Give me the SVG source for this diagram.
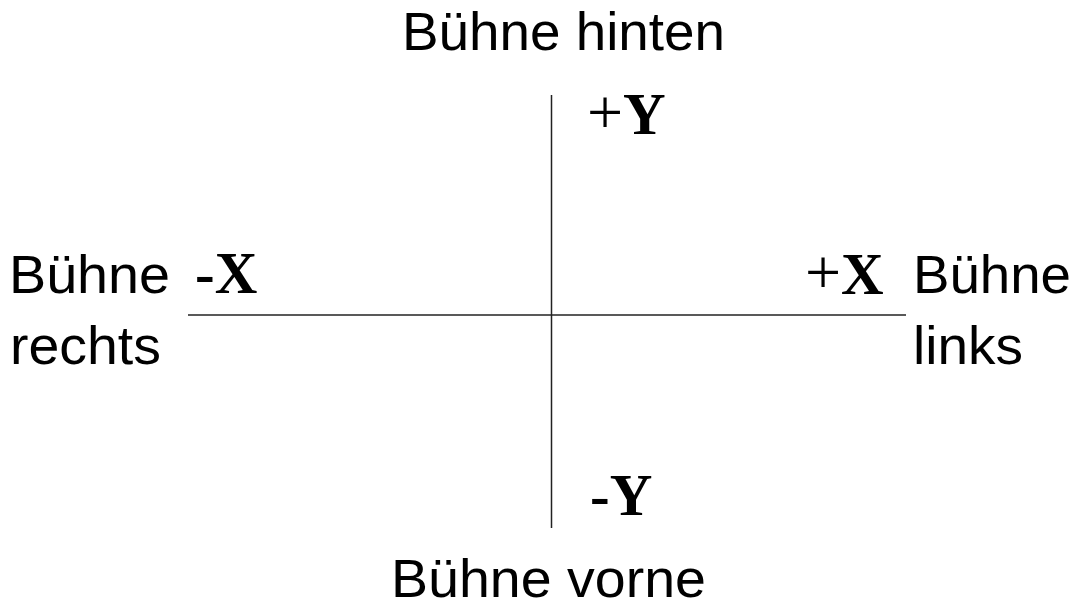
<svg xmlns="http://www.w3.org/2000/svg" width="1079" height="605" viewBox="0 0 1079 605">
<style>
.s{font-family:"Liberation Sans",Arial,sans-serif;font-size:53px;fill:#000}
.m{font-family:"Liberation Serif","Times New Roman",serif;font-size:59px;font-weight:bold;fill:#000}
.p{font-weight:normal;font-size:64px}
.ax{stroke:#222;stroke-width:1.5;fill:none}
</style>
<rect width="1079" height="605" fill="#fff"/>
<g id="axes">
<line class="ax" x1="551.5" y1="95" x2="551.5" y2="528"/>
<line class="ax" x1="188" y1="315" x2="906" y2="315"/>
</g>
<g id="top"><text class="s" x="402" y="50" textLength="323" lengthAdjust="spacingAndGlyphs">Bühne hinten</text></g>
<g id="bottom"><text class="s" x="391" y="597" textLength="315" lengthAdjust="spacingAndGlyphs">Bühne vorne</text></g>
<g id="left"><text class="s" x="9" y="293" textLength="161" lengthAdjust="spacingAndGlyphs">Bühne</text><text class="s" x="10" y="364" textLength="151" lengthAdjust="spacingAndGlyphs">rechts</text></g>
<g id="right"><text class="s" x="913" y="293" textLength="158" lengthAdjust="spacingAndGlyphs">Bühne</text><text class="s" x="913" y="364" textLength="110" lengthAdjust="spacingAndGlyphs">links</text></g>
<g id="py"><text class="m" x="587" y="134"><tspan class="p">+</tspan>Y</text></g>
<g id="ny"><text class="m" x="590" y="515">-Y</text></g>
<g id="nx"><text class="m" x="195" y="293">-X</text></g>
<g id="px"><text class="m" x="805" y="294"><tspan class="p">+</tspan>X</text></g>
</svg>
